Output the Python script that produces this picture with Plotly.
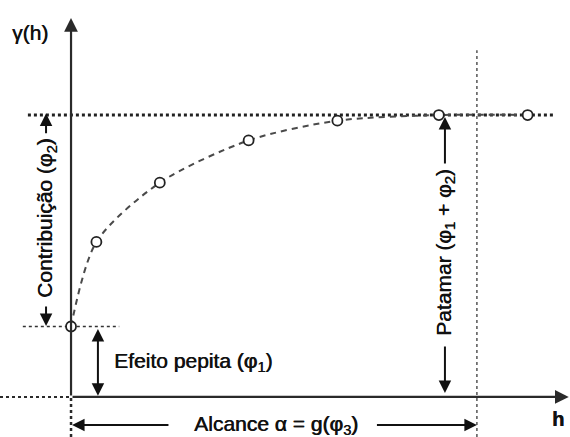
import plotly.graph_objects as go

# Experimental semivariogram: lag distance h and semivariance gamma(h)
lag_h = [0, 1, 3.5, 7, 10.5, 14.5, 18]
gamma = [0.25, 0.55, 0.76, 0.91, 0.98, 1.0, 1.0]

nugget = 0.25    # efeito pepita (phi1)
sill = 1.0       # patamar (phi1 + phi2)
range_a = 16     # alcance

x_min, x_max = -2.8, 19.67
y_min, y_max = -0.142, 1.408

INK = "#111111"
AXIS = "#2a2a2a"
FONT = "Liberation Sans, Arial, sans-serif"

fig = go.Figure()

fig.add_trace(go.Scatter(
    x=lag_h, y=gamma, mode="lines+markers",
    line=dict(color="#4a4a4a", width=2, dash="6px,5px", shape="spline", smoothing=0.8),
    marker=dict(symbol="circle", size=10, color="white", line=dict(color="#222222", width=1.8)),
    hoverinfo="skip", showlegend=False,
))

shapes = [
    # sill (dotted, heavy)
    dict(type="line", x0=-1.7, x1=19.0, y0=sill, y1=sill,
         line=dict(color="#222222", width=3, dash="dot")),
    # nugget level
    dict(type="line", x0=-1.9, x1=1.9, y0=nugget, y1=nugget,
         line=dict(color="#333333", width=1.5, dash="dot")),
    # range marker
    dict(type="line", x0=range_a, x1=range_a, y0=y_min, y1=1.23,
         line=dict(color="#555555", width=1.5, dash="dot")),
    # axis extensions
    dict(type="line", x0=x_min, x1=0, y0=0, y1=0,
         line=dict(color=AXIS, width=2, dash="dot")),
    dict(type="line", x0=0, x1=0, y0=y_min, y1=0,
         line=dict(color=AXIS, width=2.5, dash="dot")),
]
for s in shapes:
    s.update(xref="x", yref="y", layer="below")


def arrow(x, y, ax, ay, width=2, side="end", color=INK, size=1.25):
    fig.add_annotation(x=x, y=y, ax=ax, ay=ay, xref="x", yref="y", axref="x", ayref="y",
                       text="", showarrow=True, arrowhead=2, arrowsize=size,
                       arrowwidth=width, arrowcolor=color, arrowside=side,
                       standoff=0, startstandoff=0)


# axes
arrow(0, 1.344, 0, 0, width=2.2, color=AXIS)
arrow(19.62, 0, 0, 0, width=2.2, color=AXIS)

# contribution arrows
arrow(-0.985, 1.005, -0.985, 0.93)
arrow(-0.985, 0.252, -0.985, 0.326)
# nugget double arrow
arrow(1.06, 0.004, 1.06, 0.246, side="end+start")
# sill arrows
arrow(14.74, 0.993, 14.74, 0.823)
arrow(14.74, 0.014, 14.74, 0.184)
# range arrows
arrow(0.04, -0.099, 3.9, -0.099)
arrow(16.0, -0.099, 12.0, -0.099)


def label(x, y, text, angle=0, xanchor="center", size=21):
    fig.add_annotation(x=x, y=y, xref="x", yref="y", text=text, showarrow=False,
                       textangle=angle, xanchor=xanchor, yanchor="middle",
                       font=dict(family=FONT, size=size, color=INK,
                                 shadow="0.6px 0px 0px #111111"))


label(-1.62, 1.294, "γ(h)", size=21)
label(19.19, -0.078, "<b>h</b>", size=20)
label(-0.985, 0.635, "Contribuição (φ<sub>2</sub>)", angle=-90)
label(1.6, 0.124, "Efeito pepita (φ<sub>1</sub>)", xanchor="left")
label(14.74, 0.514, "Patamar (φ<sub>1</sub> + φ<sub>2</sub>)", angle=-90)
label(8.08, -0.099, "Alcance α = g(φ<sub>3</sub>)")

fig.update_layout(
    width=570, height=437,
    margin=dict(l=0, r=0, t=0, b=0),
    paper_bgcolor="white", plot_bgcolor="white",
    shapes=shapes,
    xaxis=dict(range=[x_min, x_max], visible=False, fixedrange=True),
    yaxis=dict(range=[y_min, y_max], visible=False, fixedrange=True),
    showlegend=False,
)

fig.write_html("out.html")
